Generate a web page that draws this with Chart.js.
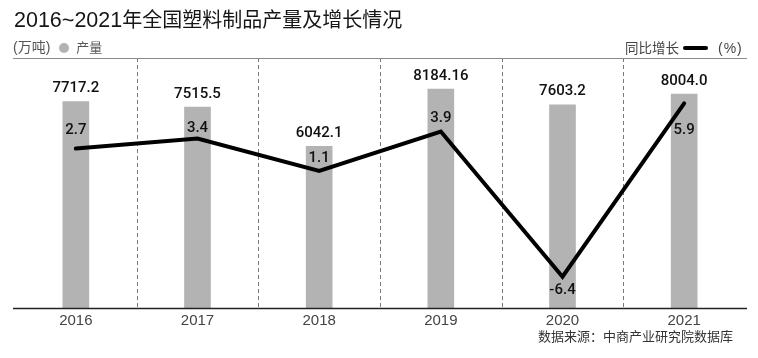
<!DOCTYPE html>
<html><head><meta charset="utf-8">
<script src="https://cdn.jsdelivr.net/npm/chart.js@4/dist/chart.umd.min.js"></script>
<style>
html,body{margin:0;padding:0;background:#fff;}
#wrap{position:relative;width:758px;height:358px;overflow:hidden;}
#c{position:absolute;left:0;top:0;}
.t{position:absolute;white-space:nowrap;font-family:"Liberation Sans","Noto Sans CJK SC",sans-serif;}
</style></head>
<body>
<div id="wrap">
  <canvas id="c" width="758" height="358"></canvas>
  <div class="t" style="left:14px;top:8px;font-size:20px;line-height:24px;color:#161616;"><span style="font-size:21.5px;">2016~2021</span>年全国塑料制品产量及增长情况</div>
  <div class="t" style="left:13px;top:39px;font-size:14px;line-height:16px;color:#555;">(万吨)<span style="display:inline-block;width:10px;height:10px;border-radius:50%;background:#b3b3b3;margin:0 7px 0 9px;vertical-align:-1px;"></span><span style="font-size:13px;">产量</span></div>
  <div class="t" style="left:625px;top:40px;font-size:13.5px;line-height:16px;color:#444;">同比增长<span style="display:inline-block;width:25px;height:4px;background:#000;margin:0 10px 0 4px;vertical-align:3px;border-radius:2px;"></span><span style="font-size:14px;letter-spacing:1px;">(%)</span></div>
  <div class="t" style="left:538px;top:328px;font-size:13px;line-height:17px;color:#333;">数据来源：中商产业研究院数据库</div>
</div>
<script>
const categories = ['2016','2017','2018','2019','2020','2021'];
const outputValues = [7717.2, 7515.5, 6042.1, 8184.16, 7603.2, 8004.0];
const outputLabels = ['7717.2','7515.5','6042.1','8184.16','7603.2','8004.0'];
const growthValues = [2.7, 3.4, 1.1, 3.9, -6.4, 5.9];
const growthLabels = ['2.7','3.4','1.1','3.9','-6.4','5.9'];

const style = {
  barColor: '#b3b3b3',
  lineLabelDy: [-18, -10, -13, -13, 14, 27],
  barLabelDy: -13
};

const labelPlugin = {
  id: 'decor',
  beforeDatasetsDraw(chart) {
    const {ctx, chartArea: a, scales} = chart;
    const xs = scales.x;
    ctx.save();
    ctx.strokeStyle = '#7a7a7a';
    ctx.lineWidth = 1;
    ctx.setLineDash([4, 3]);
    for (let i = 0; i < categories.length - 1; i++) {
      const x = Math.round((xs.getPixelForValue(i) + xs.getPixelForValue(i + 1)) / 2) + 0.5;
      ctx.beginPath(); ctx.moveTo(x, a.top); ctx.lineTo(x, a.bottom); ctx.stroke();
    }
    ctx.setLineDash([]);
    ctx.strokeStyle = '#8a8a8a';
    ctx.beginPath(); ctx.moveTo(a.left - 2, a.top + 0.5); ctx.lineTo(a.right + 2, a.top + 0.5); ctx.stroke();
    ctx.restore();
  },
  afterDatasetsDraw(chart) {
    const {ctx, chartArea: a} = chart;
    ctx.save();
    ctx.strokeStyle = '#222';
    ctx.lineWidth = 1.5;
    ctx.beginPath(); ctx.moveTo(a.left - 2, a.bottom + 0.5); ctx.lineTo(a.right + 2, a.bottom + 0.5); ctx.stroke();
    ctx.font = '500 15px Roboto, "Liberation Sans", sans-serif';
    ctx.fillStyle = '#111';
    ctx.textAlign = 'center';
    ctx.textBaseline = 'middle';
    chart.getDatasetMeta(0).data.forEach((el, i) => {
      ctx.fillText(outputLabels[i], el.x, el.y + style.barLabelDy);
    });
    chart.getDatasetMeta(1).data.forEach((el, i) => {
      ctx.fillText(growthLabels[i], el.x, el.y + style.lineLabelDy[i]);
    });
    ctx.restore();
  }
};

new Chart(document.getElementById('c'), {
  data: {
    labels: categories,
    datasets: [
      {
        type: 'bar', label: '产量', data: outputValues, yAxisID: 'y',
        backgroundColor: style.barColor, barThickness: 26, order: 2
      },
      {
        type: 'line', label: '同比增长', data: growthValues, yAxisID: 'y2',
        borderColor: '#000', borderWidth: 4, pointRadius: 0, tension: 0,
        borderJoinStyle: 'miter', borderCapStyle: 'round', order: 1
      }
    ]
  },
  options: {
    responsive: false,
    animation: false,
    layout: { padding: { top: 58, left: 15, right: 13, bottom: 24 } },
    plugins: { legend: { display: false }, tooltip: { enabled: false }, title: { display: false } },
    scales: {
      x: {
        offset: true,
        grid: { display: false, drawTicks: false },
        border: { display: false },
        ticks: { padding: 4, color: '#444', font: { family: '"Liberation Sans", Arial, sans-serif', size: 15 } }
      },
      y: { display: false, min: 0, max: 9350 },
      y2: { display: false, min: -8.62, max: 9.12 }
    }
  },
  plugins: [labelPlugin]
});
</script>
</body></html>
